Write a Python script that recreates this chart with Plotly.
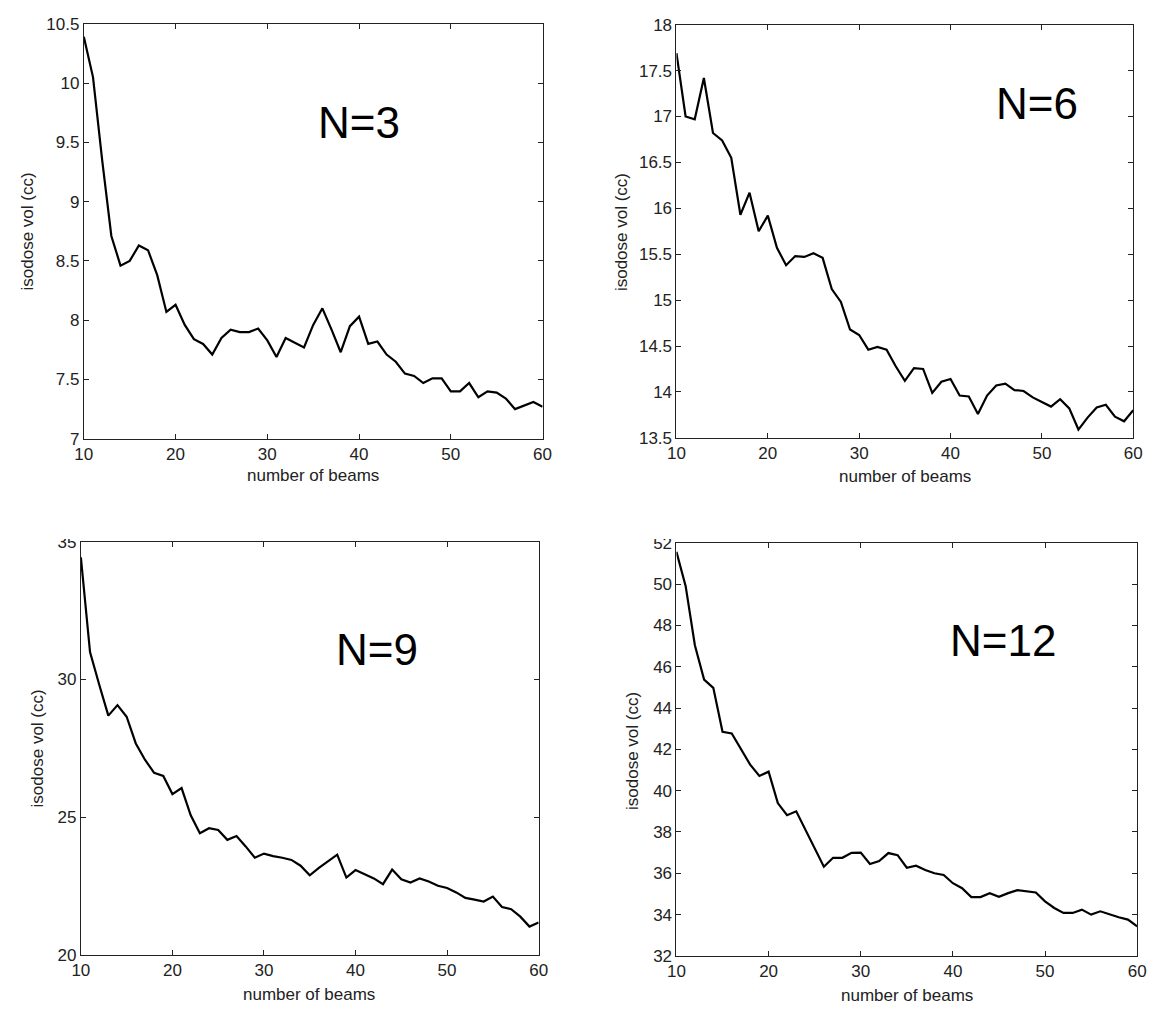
import plotly.graph_objects as go

beams = list(range(10, 61))

vol_n3 = [10.39, 10.05, 9.35, 8.71, 8.46, 8.50, 8.63, 8.59, 8.38, 8.07,
          8.13, 7.96, 7.84, 7.80, 7.71, 7.85, 7.92, 7.90, 7.90, 7.93,
          7.83, 7.69, 7.85, 7.81, 7.77, 7.96, 8.10, 7.92, 7.73, 7.95,
          8.03, 7.80, 7.82, 7.71, 7.65, 7.55, 7.53, 7.47, 7.51, 7.51,
          7.40, 7.40, 7.47, 7.35, 7.40, 7.39, 7.34, 7.25, 7.28, 7.31, 7.27]

vol_n6 = [17.69, 17.00, 16.97, 17.42, 16.82, 16.74, 16.55, 15.93, 16.17, 15.75,
          15.92, 15.57, 15.38, 15.48, 15.47, 15.51, 15.46, 15.12, 14.98, 14.68,
          14.62, 14.46, 14.49, 14.46, 14.28, 14.12, 14.26, 14.25, 13.99, 14.11,
          14.14, 13.96, 13.95, 13.76, 13.96, 14.07, 14.09, 14.02, 14.01, 13.94,
          13.89, 13.84, 13.92, 13.82, 13.59, 13.72, 13.83, 13.86, 13.73, 13.68, 13.80]

vol_n9 = [34.44, 31.0, 29.82, 28.69, 29.07, 28.65, 27.68, 27.09, 26.61, 26.50,
          25.84, 26.06, 25.07, 24.42, 24.60, 24.54, 24.18, 24.32, 23.94, 23.53,
          23.68, 23.59, 23.53, 23.45, 23.24, 22.89, 23.16, 23.40, 23.64, 22.81,
          23.08, 22.93, 22.78, 22.57, 23.10, 22.75, 22.63, 22.78, 22.67, 22.51,
          22.43, 22.27, 22.07, 22.01, 21.94, 22.12, 21.74, 21.66, 21.39, 21.03, 21.18]

vol_n12 = [51.56, 49.9, 47.04, 45.38, 44.98, 42.85, 42.77, 41.98, 41.26, 40.71,
           40.92, 39.4, 38.81, 39.0, 38.1, 37.15, 36.32, 36.75, 36.75, 36.99,
           37.0, 36.45, 36.59, 36.98, 36.88, 36.27, 36.37, 36.16, 36.0, 35.92,
           35.52, 35.28, 34.85, 34.85, 35.04, 34.86, 35.04, 35.18, 35.12, 35.07,
           34.64, 34.32, 34.08, 34.08, 34.24, 34.0, 34.16, 34.0, 33.87, 33.76, 33.43]

panel_labels = ["N=3", "N=6", "N=9", "N=12"]
label_pos = [(40.0, 9.67), (49.5, 17.14), (42.4, 31.1), (45.4, 47.25)]
y_ranges = [(7, 10.5), (13.5, 18), (20, 35), (32, 52)]
y_dticks = [0.5, 0.5, 5, 2]
x_title = "number of beams"
y_title = "isodose vol (cc)"

W, H = 1157, 1014
# pixel boxes (left, right, top, bottom)
boxes = [(76, 542, 15, 438), (678, 1142, 16, 437), (73, 538, 543, 964), (678, 1146, 544, 965)]
# title centres in pixels: (y-title x, y-title y, x-title x, x-title y)
title_px = [(19, 227, 309, 475), (622, 227, 910, 476), (29, 754, 305, 1004), (634, 756, 912, 1005)]

series = [vol_n3, vol_n6, vol_n9, vol_n12]
font_family = "Liberation Sans, Arial, sans-serif"
txt = "#222"

fig = go.Figure()
layout = dict(
    width=W, height=H,
    margin=dict(l=0, r=0, t=0, b=0),
    paper_bgcolor="white", plot_bgcolor="white",
    showlegend=False,
    font=dict(family=font_family, size=16, color=txt),
    annotations=[], shapes=[],
)

for i, (vals, box) in enumerate(zip(series, boxes)):
    n = "" if i == 0 else str(i + 1)
    l, r, t, b = box
    fig.add_trace(go.Scatter(
        x=beams, y=vals, mode="lines",
        line=dict(color="black", width=2.2),
        xaxis="x" + n, yaxis="y" + n, hoverinfo="skip",
    ))
    layout["xaxis" + n] = dict(
        domain=[l / W, r / W], anchor="y" + n, range=[10, 60],
        tick0=10, dtick=10, ticks="inside", ticklen=5, tickcolor=txt,
        showline=True, linecolor=txt, linewidth=1, mirror="ticks",
        showgrid=False, zeroline=False,
        tickfont=dict(size=17, color=txt),
    )
    layout["yaxis" + n] = dict(
        domain=[1 - b / H, 1 - t / H], anchor="x" + n, range=list(y_ranges[i]),
        tick0=y_ranges[i][0], dtick=y_dticks[i], ticks="inside", ticklen=5, tickcolor=txt,
        showline=True, linecolor=txt, linewidth=1, mirror="ticks",
        showgrid=False, zeroline=False,
        tickfont=dict(size=17, color=txt),
    )
    layout["annotations"].append(dict(
        text=panel_labels[i], x=label_pos[i][0], y=label_pos[i][1],
        xref="x" + n, yref="y" + n, showarrow=False,
        font=dict(size=44, color="black", family=font_family),
        xanchor="center", yanchor="middle",
    ))
    yx, yy, xx, xy = title_px[i]
    layout["annotations"].append(dict(
        text=y_title, x=yx / W, y=1 - yy / H, xref="paper", yref="paper",
        showarrow=False, textangle=-90, xanchor="center", yanchor="middle",
        font=dict(size=17, color=txt, family=font_family),
    ))
    layout["annotations"].append(dict(
        text=x_title, x=xx / W, y=1 - xy / H, xref="paper", yref="paper",
        showarrow=False, xanchor="center", yanchor="middle",
        font=dict(size=17, color=txt, family=font_family),
    ))

# the original figure crops the tops of the "35" and "52" tick labels
for x0, x1 in [(20, 71), (620, 676)]:
    layout["shapes"].append(dict(
        type="rect", xref="paper", yref="paper", layer="above",
        x0=x0 / W, x1=x1 / W, y0=1 - 540 / H, y1=1 - 515 / H,
        fillcolor="white", line=dict(width=0),
    ))

fig.update_layout(**layout)
fig.write_html("out.html", config={"displayModeBar": False},
               post_script="document.body.style.margin='0';")
